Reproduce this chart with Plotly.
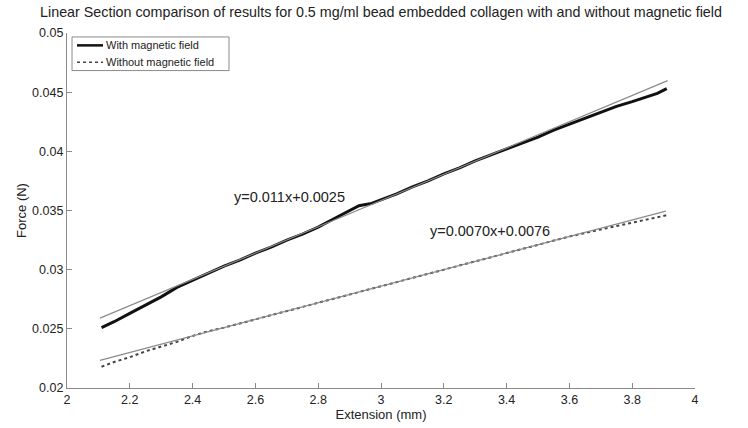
import plotly.graph_objects as go

# Measured force-extension curves (linear section)
ext_with = [2.11, 2.15, 2.20, 2.25, 2.30, 2.35, 2.40, 2.45, 2.50, 2.55, 2.60, 2.65,
            2.70, 2.75, 2.80, 2.85, 2.90, 2.93, 2.97, 3.00, 3.05, 3.10, 3.15, 3.20,
            3.25, 3.30, 3.35, 3.40, 3.45, 3.50, 3.55, 3.60, 3.65, 3.70, 3.75, 3.80,
            3.85, 3.88, 3.91]
force_with = [0.0251, 0.0256, 0.0263, 0.0270, 0.0277, 0.0285, 0.0291, 0.0297, 0.0303,
              0.0308, 0.0314, 0.0319, 0.0325, 0.0330, 0.0336, 0.0343, 0.0350, 0.0354,
              0.0356, 0.0359, 0.0364, 0.0370, 0.0375, 0.0381, 0.0386, 0.0392, 0.0397,
              0.0402, 0.0407, 0.0412, 0.0418, 0.0423, 0.0428, 0.0433, 0.0438, 0.0442,
              0.0446, 0.0449, 0.0453]

ext_without = [2.11, 2.15, 2.20, 2.25, 2.30, 2.35, 2.40, 2.45, 2.50, 2.60, 2.70, 2.80,
               2.90, 3.00, 3.10, 3.20, 3.30, 3.40, 3.50, 3.60, 3.70, 3.75, 3.80, 3.85,
               3.91]
force_without = [0.0218, 0.0222, 0.0226, 0.0231, 0.0235, 0.0239, 0.0244, 0.0248, 0.0251,
                 0.0258, 0.0265, 0.0272, 0.0279, 0.0286, 0.0293, 0.0300, 0.0307, 0.0314,
                 0.0321, 0.0328, 0.0334, 0.0337, 0.0340, 0.0343, 0.0346]

series_names = ["With magnetic field", "Without magnetic field"]

# Linear fits: slope, intercept and fitted range
fit_slope = [0.0111, 0.0070]
fit_intercept = [0.00254, 0.0076]
fit_range = [[2.105, 3.913], [2.105, 3.907]]
fit_labels = ["y=0.011x+0.0025", "y=0.0070x+0.0076"]
fit_label_pos = [[2.71, 0.0361], [3.347, 0.0333]]

x_ticks = [2, 2.2, 2.4, 2.6, 2.8, 3, 3.2, 3.4, 3.6, 3.8, 4]
x_ticktext = ["2", "2.2", "2.4", "2.6", "2.8", "3", "3.2", "3.4", "3.6", "3.8", "4"]
y_ticks = [0.02, 0.025, 0.03, 0.035, 0.04, 0.045, 0.05]
y_ticktext = ["0.02", "0.025", "0.03", "0.035", "0.04", "0.045", "0.05"]

FONT = "Liberation Sans, Arial, sans-serif"
TEXT = "#222222"
AXIS = "#8a8a8a"

line_styles = [dict(color="#111111", width=3),
               dict(color="#444444", width=2, dash="dot")]

fig = go.Figure()

fig.add_trace(go.Scatter(x=ext_with, y=force_with, mode="lines",
                         name=series_names[0], line=line_styles[0], showlegend=False))
fig.add_trace(go.Scatter(x=ext_without, y=force_without, mode="lines",
                         name=series_names[1], line=line_styles[1], showlegend=False))

for m, c, (x0, x1) in zip(fit_slope, fit_intercept, fit_range):
    fig.add_trace(go.Scatter(
        x=[x0, x1], y=[m * x0 + c, m * x1 + c], mode="lines", showlegend=False,
        line=dict(color=AXIS, width=1.2),
    ))

for text, (lx, ly) in zip(fit_labels, fit_label_pos):
    fig.add_annotation(
        x=lx, y=ly, text=text, showarrow=False, xanchor="center", yanchor="middle",
        font=dict(family=FONT, size=14.5, color=TEXT),
    )

# Compact boxed legend in the upper-left corner (pixel-based paper coordinates)
W, H = 748, 428
L, R, T, B = 67, 53, 33, 36
pw, ph = W - L - R, H - T - B


def px(x):
    return (x - L) / pw


def py(y):
    return 1 - (y - T) / ph


fig.add_shape(type="rect", xref="paper", yref="paper",
              x0=px(72), x1=px(229), y0=py(37), y1=py(71),
              line=dict(color=AXIS, width=1), fillcolor="white", layer="above")
for i, (name, style) in enumerate(zip(series_names, line_styles)):
    yy = 45.5 + i * 17
    fig.add_shape(type="line", xref="paper", yref="paper",
                  x0=px(77), x1=px(103), y0=py(yy), y1=py(yy),
                  line=dict(color=style["color"], width=style["width"] - 0.5,
                            dash=style.get("dash", "solid")),
                  layer="above")
    fig.add_annotation(xref="paper", yref="paper", x=px(104), y=py(yy),
                       text=name, showarrow=False, xanchor="left", yanchor="middle",
                       font=dict(family=FONT, size=11, color=TEXT))

axis_common = dict(
    showline=True, linecolor=AXIS, linewidth=1.2, mirror=False,
    ticks="inside", ticklen=5, tickcolor=AXIS, tickwidth=1,
    showgrid=False, zeroline=False,
    tickfont=dict(family=FONT, size=12.5, color=TEXT),
)

fig.update_layout(
    width=W, height=H,
    margin=dict(l=L, r=R, t=T, b=B),
    paper_bgcolor="white", plot_bgcolor="white",
    font=dict(family=FONT, color=TEXT),
    showlegend=False,
    title=dict(
        text="Linear Section comparison of results for 0.5 mg/ml bead embedded collagen with and without magnetic field",
        x=0.5, xref="paper", xanchor="center", y=0.972, yref="container", yanchor="middle",
        font=dict(family=FONT, size=14.3, color=TEXT),
    ),
    xaxis=dict(
        range=[2, 4], tickvals=x_ticks, ticktext=x_ticktext,
        title=dict(text="Extension (mm)", font=dict(family=FONT, size=13, color=TEXT), standoff=0),
        **axis_common,
    ),
    yaxis=dict(
        range=[0.02, 0.05], tickvals=y_ticks, ticktext=y_ticktext,
        title=dict(text="Force (N)", font=dict(family=FONT, size=13, color=TEXT), standoff=2),
        **axis_common,
    ),
)

fig.write_html("out.html")
